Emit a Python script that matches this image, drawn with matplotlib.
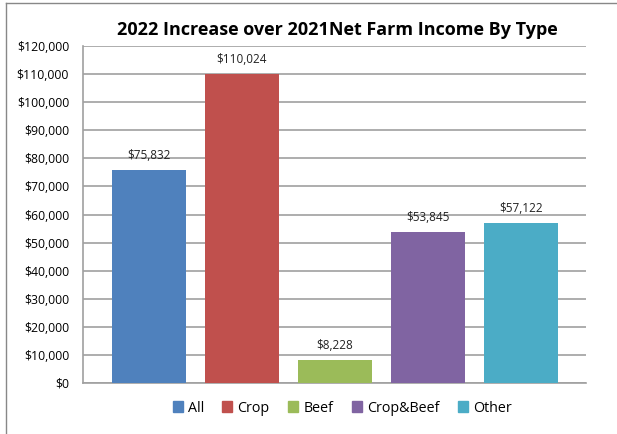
import matplotlib
matplotlib.use("Agg")
import matplotlib.pyplot as plt
from matplotlib.lines import Line2D
from matplotlib.patches import Rectangle

categories = ["All", "Crop", "Beef", "Crop&Beef", "Other"]
values = [75832, 110024, 8228, 53845, 57122]
colors = ["#4F81BD", "#C0504D", "#9BBB59", "#8064A2", "#4BACC6"]
yticks = list(range(0, 120001, 10000))
title = "2022 Increase over 2021Net Farm Income By Type"

plt.rcParams['font.family'] = ['Open Sans', 'DejaVu Sans']

fig = plt.figure(figsize=(6.17, 4.34), dpi=100)
ax = fig.add_axes([83/617, 1-383/434, (586-83)/617, (383-46)/434])

x = list(range(len(categories)))
bars = ax.bar(x, values, width=0.8, color=colors, zorder=3)
for xi, v in zip(x, values):
    ax.text(xi, v + 2800, f"${v:,}", ha="center", va="bottom", fontsize=8.5, color="#222222", zorder=4)

ax.set_xlim(-0.71, 4.70)
ax.set_ylim(0, 120000)
ax.set_yticks(yticks)
ax.set_yticklabels([f"${t:,}" for t in yticks], fontsize=8.8)
ax.set_xticks([])
ax.tick_params(axis="y", length=0, pad=10)
ax.yaxis.grid(True, color="#A0A0A0", linewidth=1.2, zorder=0)
for s in ["top", "right"]:
    ax.spines[s].set_visible(False)
ax.spines["left"].set_color("#A0A0A0")
ax.spines["bottom"].set_color("#A0A0A0")
ax.spines["left"].set_linewidth(1.2)
ax.spines["bottom"].set_linewidth(1.2)

fig.text(337/617, 1-30/434, title, ha="center", va="center", fontsize=13, fontweight="bold")

handles = [Rectangle((0, 0), 1, 1, color=c) for c in colors]
fig.legend(handles, categories, loc="center", bbox_to_anchor=(342/617, 1-408/434), ncol=5,
           frameon=False, fontsize=10.3, handlelength=0.7, handleheight=0.7, columnspacing=1.3,
           handletextpad=0.35)

# outer frame (top and left visible)
fig.add_artist(Line2D([6/617, 1], [1-3/434, 1-3/434], transform=fig.transFigure, color="#888888", linewidth=1))
fig.add_artist(Line2D([6/617, 6/617], [0, 1-3/434], transform=fig.transFigure, color="#888888", linewidth=1))

fig.savefig("out.png", dpi=100)
